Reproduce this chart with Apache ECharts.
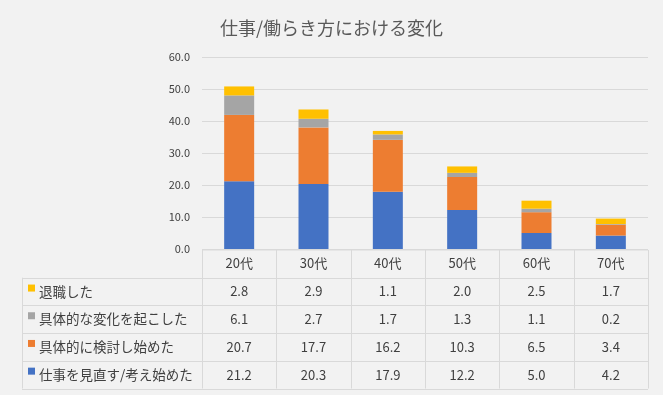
<!DOCTYPE html>
<html>
<head>
<meta charset="utf-8">
<script src="https://cdn.jsdelivr.net/npm/echarts@6/dist/echarts.min.js"></script>
<style>
html,body{margin:0;padding:0;background:#f2f2f2;}
#chart{width:663px;height:395px;}
</style>
</head>
<body>
<div id="chart"></div>
<script>
const titleText = '仕事/働らき方における変化';
const categories = ['20代','30代','40代','50代','60代','70代'];
const seriesNames = ['仕事を見直す/考え始めた','具体的に検討し始めた','具体的な変化を起こした','退職した'];
const rethink = [21.2,20.3,17.9,12.2,5.0,4.2];
const considering = [20.7,17.7,16.2,10.3,6.5,3.4];
const changed = [6.1,2.7,1.7,1.3,1.1,0.2];
const retired = [2.8,2.9,1.1,2.0,2.5,1.7];
const colors = ['#4472c4','#ed7d31','#a5a5a5','#ffc000'];
const yMin = 0, yMax = 60, yInterval = 10;

const seriesData = [rethink, considering, changed, retired];
const FONT = "'Noto Sans CJK JP', 'Noto Sans', sans-serif";
const TXT = '#404040';
const LINE = '#d9d9d9';

const G = {left:202, right:648, top:57, bottom:249};
const tableLeft = 22, headerTop = 250, rowH = 27.7;

const chart = echarts.init(document.getElementById('chart'), null, {renderer:'canvas'});
chart.setOption({
  backgroundColor:'#f2f2f2',
  animation:false,
  title:{text:titleText,left:'center',top:14,textStyle:{fontFamily:FONT,fontSize:18,fontWeight:'normal',color:'#595959'}},
  grid:{left:G.left,right:663-G.right,top:G.top,bottom:395-G.bottom,containLabel:false},
  xAxis:{type:'category',data:categories,
    axisLine:{show:false},axisTick:{show:false},
    axisLabel:{fontFamily:FONT,fontSize:13,color:TXT,margin:8}},
  yAxis:{type:'value',min:yMin,max:yMax,interval:yInterval,
    axisLine:{show:false},axisTick:{show:false},
    axisLabel:{fontFamily:FONT,fontSize:11,color:TXT,margin:12,formatter:v=>v.toFixed(1)},
    splitLine:{lineStyle:{color:LINE,width:1}}},
  series: seriesData.map((d,i)=>({
    name:seriesNames[i],type:'bar',stack:'total',data:d,barWidth:30,
    itemStyle:{color:colors[i]}
  }))
});

// Data table below the plot
const centers = categories.map((c,i)=>chart.convertToPixel({xAxisIndex:0},i));
const colW = centers.length>1 ? centers[1]-centers[0] : 74;
const colEdges = [G.left];
centers.forEach(c=>colEdges.push(c+colW/2));
const rightEdge = colEdges[colEdges.length-1];
const rowOrder = [3,2,1,0];
const rowTops = [];
for(let r=0;r<=rowOrder.length;r++) rowTops.push(headerTop+rowH*(r+1));

const g = [];
const ln = (x1,y1,x2,y2)=>g.push({type:'line',silent:true,shape:{x1,y1,x2,y2},style:{stroke:LINE,lineWidth:1}});
// horizontal lines
ln(G.left, headerTop, rightEdge, headerTop);
rowTops.forEach(y=>ln(tableLeft, Math.round(y)+0.5, rightEdge, Math.round(y)+0.5));
// vertical lines
ln(tableLeft+0.5, rowTops[0], tableLeft+0.5, rowTops[rowTops.length-1]);
colEdges.forEach(x=>ln(Math.round(x)+0.5, headerTop, Math.round(x)+0.5, rowTops[rowTops.length-1]));

rowOrder.forEach((si,r)=>{
  const yc = (rowTops[r]+rowTops[r+1])/2;
  g.push({type:'rect',silent:true,shape:{x:28,y:yc-7,width:7,height:7},style:{fill:colors[si]}});
  g.push({type:'text',silent:true,x:39,y:yc,style:{text:seriesNames[si],font:'13.5px '+FONT,fill:TXT,textVerticalAlign:'middle',textAlign:'left'}});
  seriesData[si].forEach((v,ci)=>{
    g.push({type:'text',silent:true,x:centers[ci],y:yc,style:{text:v.toFixed(1),font:'13px '+FONT,fill:TXT,textAlign:'center',textVerticalAlign:'middle'}});
  });
});
chart.setOption({graphic:g});
</script>
</body>
</html>
